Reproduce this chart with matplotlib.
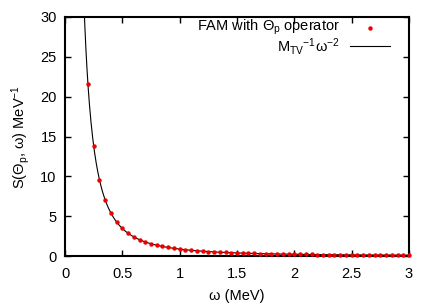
import matplotlib
matplotlib.use("Agg")
import matplotlib.pyplot as plt
import numpy as np

plt.rcParams['font.family'] = ['Liberation Sans', 'DejaVu Sans']
plt.rcParams['mathtext.fontset'] = 'custom'
plt.rcParams['mathtext.rm'] = 'Liberation Sans'
plt.rcParams['mathtext.it'] = 'Liberation Sans'
plt.rcParams['mathtext.bf'] = 'Liberation Sans'

# FAM points (omega in MeV, S in MeV^-1)
omega_pts = [0.20, 0.25, 0.30, 0.35, 0.40, 0.45, 0.50, 0.55, 0.60, 0.65,
             0.70, 0.75, 0.80, 0.85, 0.90, 0.95, 1.00, 1.05, 1.10, 1.15,
             1.20, 1.25, 1.30, 1.35, 1.40, 1.45, 1.50, 1.55, 1.60, 1.65,
             1.70, 1.75, 1.80, 1.85, 1.90, 1.95, 2.00, 2.05, 2.10, 2.15,
             2.20, 2.25, 2.30, 2.35, 2.40, 2.45, 2.50, 2.55, 2.60, 2.65,
             2.70, 2.75, 2.80, 2.85, 2.90, 2.95, 3.00]
S_pts = [21.60, 13.82, 9.60, 7.05, 5.40, 4.27, 3.46, 2.86, 2.40, 2.04,
         1.76, 1.54, 1.35, 1.20, 1.07, 0.96, 0.86, 0.78, 0.71, 0.65,
         0.60, 0.55, 0.51, 0.47, 0.44, 0.41, 0.38, 0.36, 0.34, 0.32,
         0.30, 0.28, 0.27, 0.25, 0.24, 0.23, 0.22, 0.21, 0.20, 0.19,
         0.18, 0.17, 0.16, 0.16, 0.15, 0.14, 0.14, 0.13, 0.13, 0.12,
         0.12, 0.11, 0.11, 0.11, 0.10, 0.10, 0.10]

# Analytic curve parameter M_TV^-1 (MeV)
M_TV_inv = 0.864

xticks = [0, 0.5, 1, 1.5, 2, 2.5, 3]
xticklabels = ['0', '0.5', '1', '1.5', '2', '2.5', '3']
yticks = [0, 5, 10, 15, 20, 25, 30]

fig = plt.figure(figsize=(4.36, 3.05), dpi=100)
ax = fig.add_axes([65/436, 1-256/305, (409-65)/436, (256-17)/305])

w_line = np.linspace(0.05, 3.0, 600)
ax.plot(w_line, M_TV_inv * w_line**-2, color='black', lw=0.8, zorder=2)
ax.plot(omega_pts, S_pts, 'o', color='#ee0000', ms=3.2, mec='none', zorder=3, clip_on=False)

ax.set_xlim(0, 3)
ax.set_ylim(0, 30)
ax.set_xticks(xticks)
ax.set_xticklabels(xticklabels)
ax.set_yticks(yticks)
ax.tick_params(direction='in', length=4, width=1, top=True, right=True,
               labelsize=10.5, color='black')
ax.tick_params(axis='x', pad=8)
ax.tick_params(axis='y', pad=6)
for s in ax.spines.values():
    s.set_linewidth(1.5)

ax.set_xlabel(r'ω (MeV)', fontsize=10.5, labelpad=6)
ax.set_ylabel(r'S($\Theta_\mathrm{p}$, ω) MeV$^{-1}$', fontsize=10.5, labelpad=6)

# Legend drawn manually in figure pixel coordinates
def fx(px):
    return px / 436
def fy(py):
    return 1 - py / 305

fig.text(fx(340), fy(27), r'FAM with $\Theta_\mathrm{p}$ operator', ha='right', va='center', fontsize=10.5)
fig.text(fx(340), fy(46.5), r'M$_\mathrm{TV}$$^{-1}$ω$^{-2}$', ha='right', va='center', fontsize=10.5)
fig.add_artist(plt.Line2D([fx(370)], [fy(28)], marker='o', color='#ee0000', ms=3.2, mec='none', ls='none'))
fig.add_artist(plt.Line2D([fx(350), fx(390)], [fy(45.5), fy(45.5)], color='black', lw=0.8))

fig.savefig('out.png', dpi=100)
